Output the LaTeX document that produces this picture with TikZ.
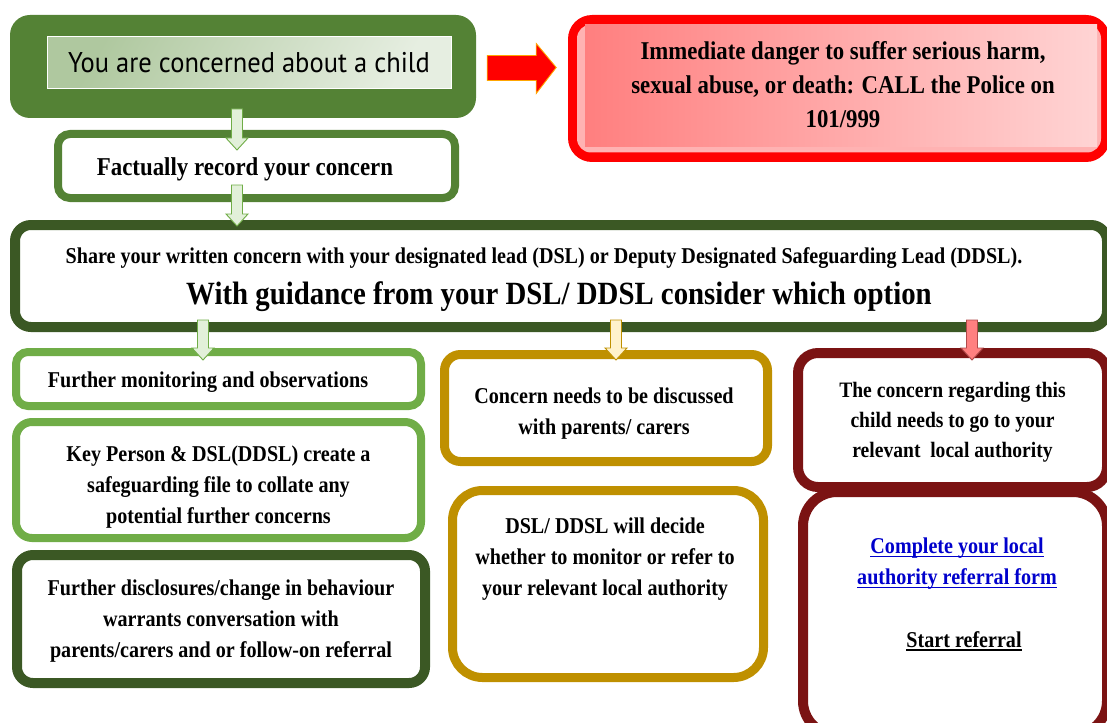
\documentclass[tikz,border=0pt]{standalone}
\usepackage{fontspec}
\setmainfont{Liberation Serif}[FakeStretch=0.89]
\newfontfamily\dinfont{PT Sans}[FakeStretch=0.93]
\usetikzlibrary{calc}
\definecolor{dkgreen}{HTML}{548235}
\definecolor{vdkgreen}{HTML}{3B5824}
\definecolor{ltgreen}{HTML}{70AD47}
\definecolor{gold}{HTML}{BF9000}
\definecolor{dkred}{HTML}{7B1313}
\definecolor{linkblue}{HTML}{0000CC}
\definecolor{arrgreenfill}{HTML}{E2F0D9}
\definecolor{arryellowfill}{HTML}{FFF2CC}
\definecolor{arrpinkfill}{HTML}{FF8080}
\definecolor{arrpinkdraw}{HTML}{B04A4A}
\definecolor{redfillA}{HTML}{FF7F7F}
\definecolor{redfillB}{HTML}{FFD4D4}
\definecolor{topinA}{HTML}{AFC89F}
\definecolor{topinB}{HTML}{E6EEE1}
\newcommand{\blockdown}[5]{%
  \draw[draw=#5, fill=#4, line width=0.9pt, line join=miter]
    (#1-5.5,#2) -- (#1+5.5,#2) -- (#1+5.5,#3-12) -- (#1+11,#3-12) -- (#1,#3)
    -- (#1-11,#3-12) -- (#1-5.5,#3-12) -- cycle;}
\newcommand{\thickul}[1]{\setbox0\hbox{#1}\rlap{\rule[-3.5pt]{\wd0}{1.8pt}}\box0}
\tikzset{
  box/.style={rectangle, rounded corners=14pt, fill=white, align=center, inner sep=0pt},
  bodytext/.style={font=\bfseries\fontsize{22.6}{31}\selectfont, align=center, inner sep=0pt},
}
\begin{document}
\begin{tikzpicture}[x=1pt,y=-1pt]
\useasboundingbox (0,0) rectangle (1107,722);

% top box
\node[rectangle, rounded corners=20pt, fill=dkgreen, minimum width=466, minimum height=103] (top) at (243,66.5) {};
\node[rectangle, draw=white, line width=1pt, left color=topinA, right color=topinB, shading angle=60,
      minimum width=404, minimum height=52, font=\dinfont\fontsize{28.5}{30}\selectfont] (topin) at (249,63) {You are concerned about a child};

% red danger box
\node[rectangle, rounded corners=24pt, fill=red, minimum width=542, minimum height=147] (danger) at (839,88.5) {};
\node[rectangle, rounded corners=14pt, fill=redfillA!60!white, minimum width=524, minimum height=128] (dangerin) at (839,88.5) {};
\node[rectangle, left color=redfillA, right color=redfillB, minimum width=512, minimum height=122] (dangerfill) at (841,86) {};
\node[align=center, inner sep=0pt, font=\bfseries\fontsize{25.6}{34}\selectfont] (dangertext) at (843,85)
      {Immediate danger to suffer serious harm,\\ sexual abuse, or death: CALL the Police on\\ 101/999};

% red right arrow
\draw[draw=orange!70!yellow, fill=red, line width=0.9pt, line join=miter]
  ($(top.east)+(11,-11)$) -- ($(top.east)+(60,-11)$) -- ($(top.east)+(60,-23)$) -- ($(top.east)+(80,1)$)
  -- ($(top.east)+(60,27)$) -- ($(top.east)+(60,14)$) -- ($(top.east)+(11,14)$) -- cycle;

% factually box
\node[box, draw=dkgreen, line width=8pt, rounded corners=12pt, minimum width=397, minimum height=64] (fact) at (256.5,166) {};
\node[inner sep=0pt, font=\bfseries\fontsize{25.7}{30}\selectfont] (facttext) at (245,169) {Factually record your concern};

% share box
\node[box, draw=vdkgreen, line width=10pt, rounded corners=16pt, minimum width=1092, minimum height=102] (share) at (561,276) {};
\node[font=\bfseries\fontsize{22.6}{24}\selectfont] (share1) at (544,258) {Share your written concern with your designated lead (DSL) or Deputy Designated Safeguarding Lead (DDSL).};
\node[font=\bfseries\fontsize{32.4}{34}\selectfont] (share2) at (559,297) {With guidance from your DSL/ DDSL consider which option};

% left column
\node[box, draw=ltgreen, line width=8pt, rounded corners=12pt, minimum width=405, minimum height=54] (fm) at (218.5,379) {};
\node[bodytext] (fmtext) at (208,382) {Further monitoring and observations};
\node[box, draw=ltgreen, line width=8pt, rounded corners=16pt, minimum width=405, minimum height=116] (kp) at (218.5,480) {};
\node[bodytext] (kptext) at (218.5,487) {Key Person \& DSL(DDSL) create a\\ safeguarding file to collate any\\ potential further concerns};
\node[box, draw=vdkgreen, line width=10pt, rounded corners=16pt, minimum width=408, minimum height=128] (fd) at (221,619) {};
\node[bodytext] (fdtext) at (221,621) {Further disclosures/change in behaviour\\ warrants conversation with\\ parents/carers and or follow-on referral};

% middle column
\node[box, draw=gold, line width=9pt, rounded corners=16pt, minimum width=323, minimum height=107] (cn) at (606,408) {};
\node[bodytext] (cntext) at (604,414) {Concern needs to be discussed\\ with parents/ carers};
\node[box, draw=gold, line width=9pt, rounded corners=30pt, minimum width=311, minimum height=187] (dsl) at (608,584) {};
\node[bodytext] (dsltext) at (605,559.5) {DSL/ DDSL will decide\\ whether to monitor or refer to\\ your relevant local authority};

% right column
\node[box, draw=dkred, line width=10pt, rounded corners=20pt, minimum width=309, minimum height=134] (tc) at (952.5,420) {};
\node[bodytext, font=\bfseries\fontsize{22}{30}\selectfont] (tctext) at (952.5,422) {The concern regarding this\\ child needs to go to your\\ relevant\ \ local authority};
\node[box, draw=dkred, line width=10pt, rounded corners=34pt, minimum width=304, minimum height=243] (cl) at (955,613.5) {};
\node[bodytext, text=linkblue] (link) at (957,564) {\thickul{Complete your local}\\ \thickul{authority referral form}};
\node[bodytext] (start) at (964,641) {\thickul{Start referral}};

% block arrows
\blockdown{237}{109}{150}{arrgreenfill}{ltgreen}
\blockdown{237}{185}{226}{arrgreenfill}{ltgreen}
\blockdown{203}{320}{360}{arrgreenfill}{ltgreen}
\blockdown{616}{320}{360}{arryellowfill}{gold}
\blockdown{972}{320}{360}{arrpinkfill}{arrpinkdraw}
\end{tikzpicture}
\end{document}
